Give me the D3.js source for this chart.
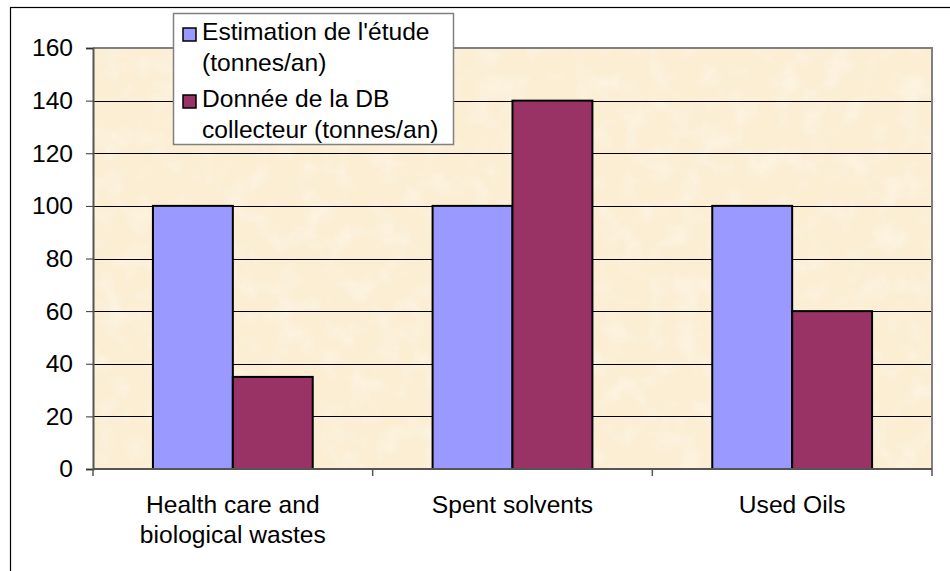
<!DOCTYPE html>
<html>
<head>
<meta charset="utf-8">
<script src="https://cdn.jsdelivr.net/npm/d3@7"></script>
<style>
  body { margin: 0; background: #fff; }
  svg { display: block; font-family: "Liberation Sans", Arial, sans-serif; }
</style>
</head>
<body>
<div id="chart"></div>
<script>
const categories = [["Health care and", "biological wastes"], ["Spent solvents"], ["Used Oils"]]
const seriesNames = [["Estimation de l'étude", "(tonnes/an)"], ["Donnée de la DB", "collecteur (tonnes/an)"]]
const estimation = [100, 100, 100]
const collecteur = [35, 140, 60]
const yTicks = [0, 20, 40, 60, 80, 100, 120, 140, 160]
const colors = ["#9999FF", "#993366"]

const width = 950, height = 571
const plot = { left: 93, top: 48, right: 932, bottom: 469 }
const fontSize = 24.6

const svg = d3.select("#chart").append("svg")
  .attr("width", width)
  .attr("height", height)

// parchment texture
const defs = svg.append("defs")
const filt = defs.append("filter").attr("id", "paper")
  .attr("x", 0).attr("y", 0).attr("width", 1).attr("height", 1)
filt.append("feTurbulence")
  .attr("type", "fractalNoise").attr("baseFrequency", 0.04).attr("numOctaves", 4).attr("seed", 7)
filt.append("feColorMatrix")
  .attr("type", "matrix")
  .attr("values", "0 0 0 0 1  0 0 0 0 0.98  0 0 0 0 0.93  0 0 0 -0.9 0.5")
filt.append("feComposite").attr("in2", "SourceGraphic").attr("operator", "in")
const fmerge = filt.append("feMerge")
fmerge.append("feMergeNode").attr("in", "SourceGraphic")
fmerge.append("feMergeNode")

// outer chart border
svg.append("rect")
  .attr("x", 10.5).attr("y", 7.5)
  .attr("width", width).attr("height", height)
  .attr("fill", "none").attr("stroke", "#000").attr("stroke-width", 1.2)

const x0 = d3.scaleBand()
  .domain(d3.range(categories.length))
  .range([plot.left, plot.right])

const x1 = d3.scaleBand()
  .domain([0, 1])
  .range([0, x0.bandwidth()])
  .paddingInner(0)
  .paddingOuter(0.75)

const y = d3.scaleLinear()
  .domain([0, 160])
  .range([plot.bottom, plot.top])

// plot background
svg.append("rect")
  .attr("x", plot.left).attr("y", plot.top)
  .attr("width", plot.right - plot.left).attr("height", plot.bottom - plot.top)
  .attr("fill", "#FBEED3")
  .attr("filter", "url(#paper)")

// gridlines
svg.append("g")
  .selectAll("line")
  .data(yTicks.filter(d => d > 0 && d < 160))
  .join("line")
  .attr("x1", plot.left).attr("x2", plot.right)
  .attr("y1", d => Math.round(y(d)) + 0.5).attr("y2", d => Math.round(y(d)) + 0.5)
  .attr("stroke", "#000").attr("stroke-width", 1)

// plot border (top/right)
svg.append("path")
  .attr("d", `M${plot.left},${plot.top} H${plot.right} V${plot.bottom}`)
  .attr("fill", "none").attr("stroke", "#808080").attr("stroke-width", 2)

// bars
const rows = categories.map((c, i) => [estimation[i], collecteur[i]])
svg.append("g")
  .selectAll("g")
  .data(rows)
  .join("g")
  .attr("transform", (d, i) => `translate(${x0(i)},0)`)
  .selectAll("rect")
  .data(d => d.map((v, k) => ({ v, k })))
  .join("rect")
  .attr("x", d => x1(d.k))
  .attr("y", d => y(d.v))
  .attr("width", x1.bandwidth())
  .attr("height", d => y(0) - y(d.v))
  .attr("fill", d => colors[d.k])
  .attr("stroke", "#000")
  .attr("stroke-width", 2)

// y axis
const yAxis = svg.append("g")
  .attr("transform", `translate(${plot.left},0)`)
  .call(d3.axisLeft(y).tickValues(yTicks).tickSize(7).tickPadding(13))
yAxis.select(".domain").attr("stroke", "#555").attr("stroke-width", 2)
yAxis.selectAll(".tick line").attr("stroke", "#333")
yAxis.selectAll(".tick text")
  .attr("font-size", fontSize).attr("font-family", "Liberation Sans, Arial, sans-serif").attr("fill", "#000")

// x axis
const xAxisG = svg.append("g")
  .attr("transform", `translate(0,${plot.bottom})`)
xAxisG.append("line")
  .attr("x1", plot.left).attr("x2", plot.right)
  .attr("y1", 0).attr("y2", 0)
  .attr("stroke", "#555").attr("stroke-width", 2)
xAxisG.selectAll("line.tk")
  .data(d3.range(categories.length + 1))
  .join("line")
  .attr("class", "tk")
  .attr("x1", i => i < categories.length ? x0(i) : plot.right)
  .attr("x2", i => i < categories.length ? x0(i) : plot.right)
  .attr("y1", 0).attr("y2", 7)
  .attr("stroke", "#555").attr("stroke-width", 1.5)

const xl = xAxisG.selectAll("text.cat")
  .data(categories)
  .join("text")
  .attr("class", "cat")
  .attr("x", (d, i) => x0(i) + x0.bandwidth() / 2)
  .attr("y", 44)
  .attr("text-anchor", "middle")
  .attr("font-size", fontSize)
xl.selectAll("tspan")
  .data(d => d)
  .join("tspan")
  .attr("x", function () { return d3.select(this.parentNode).attr("x") })
  .attr("dy", (d, i) => i === 0 ? 0 : 30)
  .text(d => d)

// legend
const legend = svg.append("g").attr("transform", "translate(173,13)")
legend.append("rect")
  .attr("x", 0.5).attr("y", 0.5)
  .attr("width", 280).attr("height", 131)
  .attr("fill", "#fff").attr("stroke", "#808080").attr("stroke-width", 1.5)
const items = legend.selectAll("g.item")
  .data(seriesNames)
  .join("g")
  .attr("class", "item")
  .attr("transform", (d, i) => `translate(0,${i * 67})`)
items.append("rect")
  .attr("x", 10).attr("y", 15)
  .attr("width", 13).attr("height", 13)
  .attr("fill", (d, i) => colors[i])
  .attr("stroke", "#000").attr("stroke-width", 1.5)
items.append("text")
  .attr("font-size", fontSize)
  .selectAll("tspan")
  .data(d => d)
  .join("tspan")
  .attr("x", 29)
  .attr("y", (d, i) => 27 + i * 31)
  .text(d => d)
</script>
</body>
</html>
